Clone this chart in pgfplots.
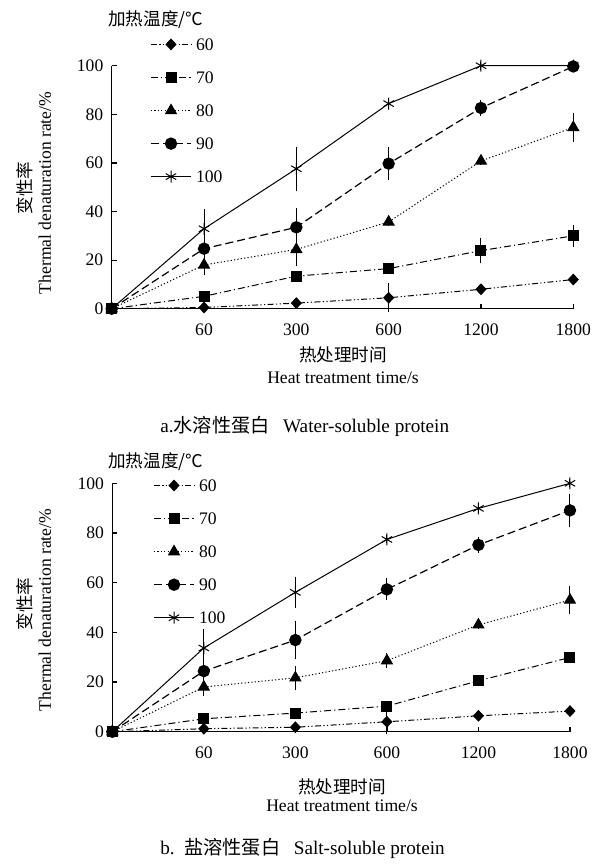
\documentclass[border=0pt]{standalone}
\usepackage{fontspec}
\setmainfont{Liberation Serif}
\newfontfamily\cjk{Noto Sans CJK SC}
\usepackage{pgfplots}
\pgfplotsset{compat=1.18}
\newcommand\lf{\fontsize{8.8}{10}\selectfont}
\newcommand\cf{\fontsize{8.8}{10}\selectfont\cjk}
\newcommand\capf{\fontsize{9.6}{11}\selectfont}
\pgfplotsset{
  mystyle/.style={
    scale only axis, clip=false,
    xmin=0, xmax=5, ymin=0, ymax=100,
    axis x line=bottom, axis y line=left,
    axis line style={-, line width=0.7pt},
    xtick={0,1,2,3,4,5}, xticklabels={,60,300,600,1200,1800},
    ytick={0,20,40,60,80,100},
    tick align=inside, major tick length=2.5pt,
    tick style={black, line width=0.6pt},
    /pgf/number format/assume math mode=true,
    ticklabel style={font=\lf},
    yticklabel style={inner sep=0pt, xshift=-4pt},
    xticklabel style={inner sep=0pt, yshift=-7.5pt},
    legend cell align=left,
    legend image code/.code={\draw[mark repeat=2, mark phase=2, ##1] plot coordinates {(0pt,0pt) (10pt,0pt) (20pt,0pt)};},
    legend style={draw=none, fill=none, inner sep=0pt, row sep=10.5pt, column sep=2.2pt,
      nodes={inner sep=0pt, text height=6pt, text depth=0pt}, font=\lf},
  },
  s60/.style={black, line width=0.5pt, dash pattern=on 3pt off 1.2pt on 0.6pt off 1.2pt on 0.6pt off 1.2pt, mark=diamond*, mark size=2.6pt, mark options={solid, fill=black, xscale=1.25}},
  s70/.style={black, line width=0.5pt, dash pattern=on 3.5pt off 1.5pt on 0.6pt off 1.5pt, mark=square*, mark size=2.5pt, mark options={solid, fill=black}},
  s80/.style={black, line width=0.5pt, dash pattern=on 0.6pt off 1.1pt, mark=triangle*, mark size=3.1pt, mark options={solid, fill=black}},
  s90/.style={black, line width=0.6pt, dash pattern=on 4pt off 2pt, mark=*, mark size=2.8pt, mark options={solid, fill=black}},
  s100/.style={black, line width=0.5pt, solid, mark=asterisk, mark size=3pt, mark options={solid}},
  eb/.style={error bars/.cd, y dir=both, y explicit, error bar style={solid, line width=0.5pt}, error mark options={solid, mark size=2pt, line width=0.5pt}},
}
\begin{document}
\begin{tikzpicture}
\useasboundingbox (0,0) rectangle (302pt,-432pt);

% ---------------- panel a ----------------
\begin{axis}[mystyle, at={(55.85pt,-154.35pt)}, anchor=south west, width=230.8pt, height=121.5pt,
  legend style={at={(rel axis cs:0.083,1.114)}, anchor=north west}]
\addlegendimage{s60}\addlegendentry{60}
\addlegendimage{s70}\addlegendentry{70}
\addlegendimage{s80}\addlegendentry{80}
\addlegendimage{s90}\addlegendentry{90}
\addlegendimage{s100}\addlegendentry{100}
\addplot[s60, forget plot, eb] coordinates {(0,0) +- (0,0) (1,0.5) +- (0,0) (2,2.3) +- (0,0) (3,4.5) +- (0,4.4) (4,8.0) +- (0,0) (5,12.0) +- (0,0)};
\addplot[s80, forget plot, eb] coordinates {(0,0) +- (0,0) (1,18.0) +- (0,2.6) (2,24.4) +- (0,5.0) (3,35.7) +- (0,0) (4,60.8) +- (0,0) (5,74.6) +- (0,4.2)};
\addplot[s90, forget plot, eb] coordinates {(0,0) +- (0,0) (1,24.7) +- (0,3.9) (2,33.5) +- (0,6.4) (3,59.7) +- (0,5.0) (4,82.6) +- (0,1.5) (5,99.7) +- (0,0)};
\addplot[s100, forget plot, eb] coordinates {(0,0) +- (0,0) (1,32.9) +- (0,6.3) (2,57.6) +- (0,7.5) (3,84.4) +- (0,0) (4,100) +- (0,0) (5,100) +- (0,0)};
\addplot[s70, forget plot, eb] coordinates {(0,0) +- (0,0) (1,5.1) +- (0,0) (2,13.4) +- (0,0) (3,16.5) +- (0,0) (4,23.9) +- (0,3.6) (5,30.0) +- (0,2.8)};
\end{axis}

% ---------------- panel b ----------------
\begin{axis}[mystyle, at={(56.15pt,-365.85pt)}, anchor=south west, width=228.85pt, height=124.2pt,
  legend style={at={(rel axis cs:0.089,1.017)}, anchor=north west}]
\addlegendimage{s60}\addlegendentry{60}
\addlegendimage{s70}\addlegendentry{70}
\addlegendimage{s80}\addlegendentry{80}
\addlegendimage{s90}\addlegendentry{90}
\addlegendimage{s100}\addlegendentry{100}
\addplot[s60, forget plot, eb] coordinates {(0,0) +- (0,0) (1,1.2) +- (0,0) (2,1.8) +- (0,0) (3,4.0) +- (0,3.5) (4,6.4) +- (0,0) (5,8.3) +- (0,0)};
\addplot[s80, forget plot, eb] coordinates {(0,0) +- (0,0) (1,18.0) +- (0,2.0) (2,21.7) +- (0,3.2) (3,28.6) +- (0,1.3) (4,43.0) +- (0,0) (5,53.0) +- (0,4.2)};
\addplot[s90, forget plot, eb] coordinates {(0,0) +- (0,0) (1,24.4) +- (0,3.0) (2,36.9) +- (0,6.2) (3,57.3) +- (0,2.8) (4,75.2) +- (0,1.5) (5,89.1) +- (0,5.0)};
\addplot[s100, forget plot, eb] coordinates {(0,0) +- (0,0) (1,33.7) +- (0,6.0) (2,56.1) +- (0,4.6) (3,77.4) +- (0,0) (4,89.9) +- (0,0) (5,100) +- (0,0)};
\addplot[s70, forget plot, eb] coordinates {(0,0) +- (0,0) (1,5.2) +- (0,0) (2,7.5) +- (0,0) (3,10.3) +- (0,0) (4,20.5) +- (0,0) (5,29.9) +- (0,0)};
\end{axis}

% ---------------- texts ----------------
\node[anchor=west, inner sep=0pt, font=\cf] at (54pt,-10pt) {加热温度/℃};
\node[anchor=west, inner sep=0pt, font=\cf] at (54pt,-231pt) {加热温度/℃};

\node[rotate=90, inner sep=0pt, font=\cf] at (12.5pt,-94pt) {变性率};
\node[rotate=90, inner sep=0pt, font=\lf] at (22.5pt,-96.5pt) {Thermal denaturation rate/\%};
\node[rotate=90, inner sep=0pt, font=\cf] at (12.5pt,-302pt) {变性率};
\node[rotate=90, inner sep=0pt, font=\lf] at (22.5pt,-305pt) {Thermal denaturation rate/\%};

\node[inner sep=0pt, font=\cf] at (171.5pt,-177.5pt) {热处理时间};
\node[inner sep=0pt, font=\lf] at (171.5pt,-189pt) {Heat treatment time/s};
\node[inner sep=0pt, font=\cf] at (171pt,-393.5pt) {热处理时间};
\node[inner sep=0pt, font=\lf] at (171pt,-403pt) {Heat treatment time/s};

\node[anchor=west, inner sep=0pt, font=\capf] at (80pt,-213pt) {a.{\cjk 水溶性蛋白}\hspace{0.7em}Water-soluble protein};
\node[anchor=west, inner sep=0pt, font=\capf] at (80pt,-424pt) {b.\hspace{0.5em}{\cjk 盐溶性蛋白}\hspace{0.7em}Salt-soluble protein};
\end{tikzpicture}
\end{document}
